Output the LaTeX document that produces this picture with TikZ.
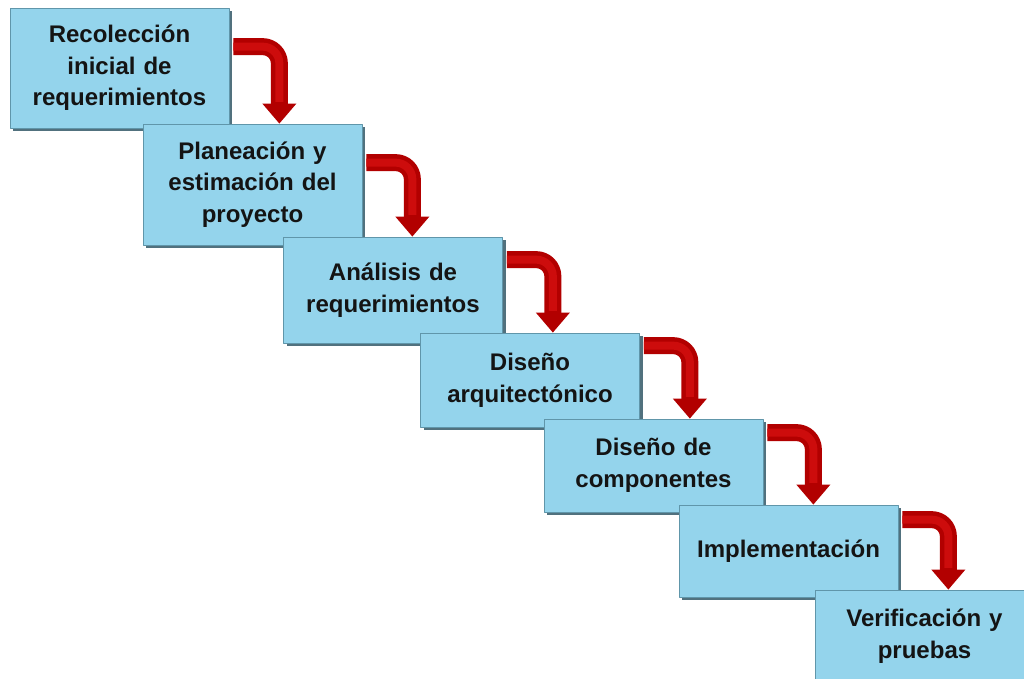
\documentclass[tikz,border=0pt]{standalone}
\usepackage{fontspec}
\setmainfont{Liberation Sans}
\usetikzlibrary{arrows.meta, calc, shadows}
\definecolor{stepblue}{RGB}{148,212,236}
\definecolor{stepedge}{RGB}{96,150,170}
\definecolor{stepshade}{RGB}{62,98,112}
\definecolor{flowred}{RGB}{178,0,0}
\definecolor{flowlight}{RGB}{205,12,12}

\begin{document}
\begin{tikzpicture}[line join=round, x=0.03cm, y=-0.03cm,
  stepbox/.style={rectangle, fill=stepblue, draw=stepedge, line width=0.6pt,
    minimum width=6.57cm, text width=6.2cm, align=center, inner sep=0pt,
    font=\bfseries\fontsize{20.5}{27}\selectfont, text=black!92,
    drop shadow={shadow xshift=2.8pt, shadow yshift=-2.8pt, fill=stepshade, opacity=0.9}},
  flow/.style={draw=flowred, line width=0.51cm, rounded corners=0.5cm,
    -{Triangle[width=0.98cm,length=0.6cm]},
    postaction={draw=flowlight, line width=0.24cm, -, shorten >=0.65cm}}]
% Frame
\useasboundingbox (0,0) rectangle (1024,679);
\clip (0,0) rectangle (1024,679);

% Steps
\node[stepbox, minimum height=3.60cm] (b1) at (119.5,68) {Recolección\\inicial de\\requerimientos};
\node[stepbox, minimum height=3.63cm] (b2) at (252.5,184.5) {Planeación y\\estimación del\\proyecto};
\node[stepbox, minimum height=3.18cm] (b3) at (393,290) {Análisis de\\requerimientos};
\node[stepbox, minimum height=2.82cm] (b4) at (530,380) {Diseño\\arquitectónico};
\node[stepbox, minimum height=2.79cm] (b5) at (653.5,465.5) {Diseño de\\componentes};
\node[stepbox, minimum height=2.76cm] (b6) at (788.5,551) {Implementación};
\node[stepbox, minimum height=2.76cm] (b7) at (924.5,636) {Verificación y\\pruebas};

% Arrows
\foreach \from/\to/\dy in {b1/b2/39, b2/b3/39, b3/b4/23, b4/b5/13, b5/b6/14, b6/b7/15}
{
  \coordinate (s-\from) at ($(\from.north east)+(4,\dy)$);
  \coordinate (c-\from) at ($(\from.north east)+(50,0)$);
  \draw[flow] (s-\from) -| (c-\from |- \to.north);
}
\end{tikzpicture}
\end{document}
